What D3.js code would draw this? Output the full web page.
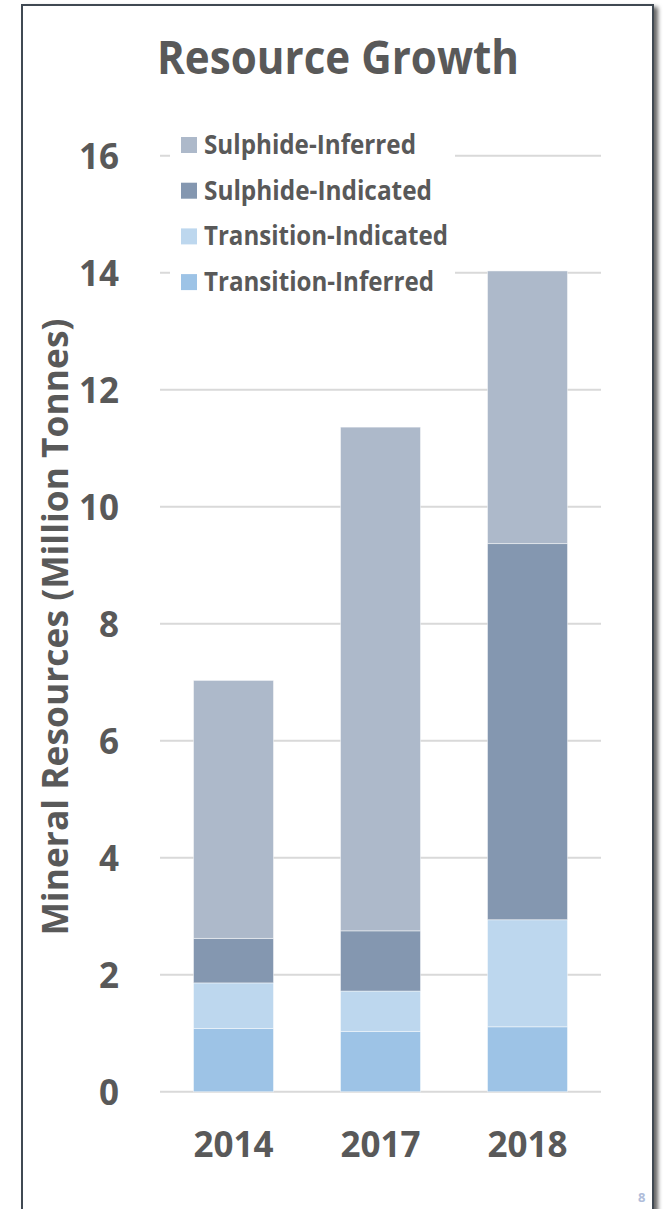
<!DOCTYPE html>
<html>
<head>
<meta charset="utf-8">
<script src="https://cdn.jsdelivr.net/npm/d3@7"></script>
<style>
  html, body { margin: 0; padding: 0; background: #fff; }
  svg { display: block; }
  text { font-family: "Open Sans", "DejaVu Sans", sans-serif; font-weight: 700; fill: #595959; }
</style>
</head>
<body>
<script>
// Mineral resources by year, million tonnes, stacked bottom-up
const years = ["2014", "2017", "2018"];
const transitionInferred = [1.08, 1.03, 1.11];
const transitionIndicated = [0.78, 0.69, 1.83];
const sulphideIndicated = [0.76, 1.03, 6.43];
const sulphideInferred = [4.41, 8.61, 4.66];

const seriesNames = ["Transition-Inferred", "Transition-Indicated", "Sulphide-Indicated", "Sulphide-Inferred"];
const seriesColors = ["#9dc3e6", "#bdd7ee", "#8497b0", "#adb9ca"];
const yTicks = [0, 2, 4, 6, 8, 10, 12, 14, 16];

const W = 664, H = 1209;
const svg = d3.select("body").append("svg").attr("width", W).attr("height", H);

// frame with a soft drop shadow
const defs = svg.append("defs");
const f = defs.append("filter").attr("id", "shadow").attr("x", "-5%").attr("y", "-5%").attr("width", "115%").attr("height", "115%");
f.append("feDropShadow").attr("dx", 4).attr("dy", 3).attr("stdDeviation", 2).attr("flood-color", "#000").attr("flood-opacity", 0.6);

svg.append("rect")
  .attr("x", 22).attr("y", 5).attr("width", 631).attr("height", 1260)
  .attr("fill", "#fff").attr("stroke", "#404852").attr("stroke-width", 2)
  .attr("filter", "url(#shadow)");

// scales
const x = d3.scaleBand().domain(years).range([160, 601]).paddingInner(0.456).paddingOuter(0.228);
const y = d3.scaleLinear().domain([0, 16]).range([1091.7, 155.7]);

// gridlines
svg.append("g").selectAll("line").data(yTicks).join("line")
  .attr("x1", 160).attr("x2", 601)
  .attr("y1", d => y(d)).attr("y2", d => y(d))
  .attr("stroke", "#d9d9d9").attr("stroke-width", 2);

// stacked bars
const rows = years.map((yr, i) => ({
  year: yr,
  "Transition-Inferred": transitionInferred[i],
  "Transition-Indicated": transitionIndicated[i],
  "Sulphide-Indicated": sulphideIndicated[i],
  "Sulphide-Inferred": sulphideInferred[i]
}));
const stacked = d3.stack().keys(seriesNames)(rows);

svg.append("g").selectAll("g").data(stacked).join("g")
  .attr("fill", (d, i) => seriesColors[i])
  .selectAll("rect").data(d => d).join("rect")
  .attr("x", d => x(d.data.year))
  .attr("width", x.bandwidth())
  .attr("y", d => y(d[1]))
  .attr("height", d => y(d[0]) - y(d[1]))
  .attr("stroke", "#ffffff").attr("stroke-opacity", 0.45).attr("stroke-width", 1);

// y axis labels
const yAxis = d3.axisLeft(y).tickValues(yTicks).tickSize(0).tickPadding(0);
const yg = svg.append("g").attr("transform", "translate(119,0)").call(yAxis);
yg.select(".domain").remove();
yg.selectAll("text").attr("font-size", 35).attr("fill", "#595959")
  .style("font-family", "'Open Sans', sans-serif").style("font-weight", 700).attr("dy", "0.36em");

// x axis labels
const xAxis = d3.axisBottom(x).tickSize(0).tickPadding(0);
const xg = svg.append("g").attr("transform", "translate(0,1132)").call(xAxis);
xg.select(".domain").remove();
xg.selectAll("text").attr("font-size", 35).attr("fill", "#595959")
  .style("font-family", "'Open Sans', sans-serif").style("font-weight", 700).attr("dy", "0.71em");

// title
svg.append("text").attr("x", 338).attr("y", 74).attr("text-anchor", "middle")
  .attr("font-size", 46).attr("textLength", 362).attr("lengthAdjust", "spacingAndGlyphs")
  .text("Resource Growth");

// y axis title
svg.append("text").attr("transform", "translate(68,627) rotate(-90)")
  .attr("text-anchor", "middle").attr("font-size", 36)
  .attr("textLength", 617).attr("lengthAdjust", "spacingAndGlyphs")
  .text("Mineral Resources (Million Tonnes)");

// legend
const legend = svg.append("g");
legend.append("rect").attr("x", 170).attr("y", 124).attr("width", 285).attr("height", 176).attr("fill", "#fff");
const legendOrder = seriesNames.slice().reverse();
const legendColors = seriesColors.slice().reverse();
const legendWidths = [212, 228, 244, 230];
const item = legend.selectAll("g.item").data(legendOrder).join("g")
  .attr("class", "item")
  .attr("transform", (d, i) => `translate(0,${145 + i * 45.7})`);
item.append("rect").attr("x", 181).attr("y", -8).attr("width", 16).attr("height", 16)
  .attr("fill", (d, i) => legendColors[i]);
item.append("text").attr("x", 204).attr("y", 9).attr("font-size", 26)
  .attr("textLength", (d, i) => legendWidths[i]).attr("lengthAdjust", "spacingAndGlyphs")
  .text(d => d);

// page number at the lower right corner
svg.append("text").attr("x", 638).attr("y", 1202).attr("font-size", 13)
  .attr("fill", "#b0bdda").style("fill", "#b0bdda").text("8");
</script>
</body>
</html>
